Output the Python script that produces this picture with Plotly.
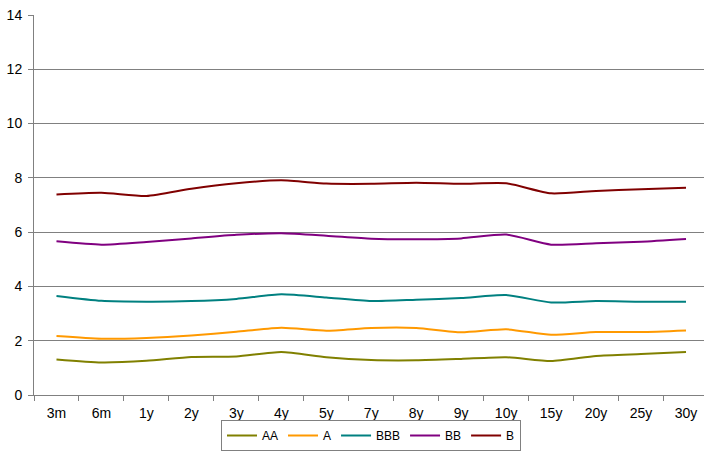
import plotly.graph_objects as go

categories = ["3m", "6m", "1y", "2y", "3y", "4y", "5y", "7y", "8y", "9y", "10y", "15y", "20y", "25y", "30y"]
AA = [1.31, 1.20, 1.26, 1.40, 1.42, 1.58, 1.39, 1.29, 1.28, 1.33, 1.39, 1.25, 1.44, 1.51, 1.58]
A = [2.17, 2.07, 2.10, 2.19, 2.33, 2.48, 2.37, 2.47, 2.47, 2.31, 2.42, 2.22, 2.32, 2.32, 2.38]
BBB = [3.65, 3.47, 3.44, 3.46, 3.54, 3.71, 3.59, 3.46, 3.51, 3.57, 3.68, 3.41, 3.46, 3.44, 3.44]
BB = [5.66, 5.54, 5.64, 5.77, 5.90, 5.96, 5.87, 5.76, 5.74, 5.77, 5.91, 5.54, 5.59, 5.65, 5.75]
B = [7.39, 7.45, 7.33, 7.60, 7.80, 7.91, 7.79, 7.78, 7.82, 7.78, 7.80, 7.43, 7.52, 7.58, 7.64]

series = [("AA", AA, "#808000"), ("A", A, "#FF9900"), ("BBB", BBB, "#008080"),
          ("BB", BB, "#800080"), ("B", B, "#800000")]

fig = go.Figure()
for name, vals, color in series:
    fig.add_trace(go.Scatter(x=list(range(len(categories))), y=vals, name=name, mode="lines",
                             line=dict(color=color, width=2, shape="spline", smoothing=0.6)))

fig.update_layout(
    width=704, height=451,
    margin=dict(l=34, r=0, t=15, b=56, autoexpand=False),
    paper_bgcolor="white", plot_bgcolor="white",
    font=dict(family="Liberation Sans, Arial", size=13, color="black"),
    legend=dict(orientation="h", x=0.527, xanchor="center", xref="container",
                y=0.0, yanchor="bottom", yref="container",
                bordercolor="#808080", borderwidth=1, font=dict(size=12),
                itemwidth=30, tracegroupgap=0, entrywidth=0, bgcolor="rgba(0,0,0,0)"),
    showlegend=True,
)
fig.update_xaxes(
    range=[-0.5, 14.4], tickmode="array", tickvals=list(range(len(categories))),
    ticktext=categories, showgrid=False, zeroline=False,
    showline=True, linecolor="#808080", linewidth=1,
    ticks="", tickfont=dict(size=14), ticklabelstandoff=5,
)
# category separator ticks
fig.update_xaxes(minor=dict(tickmode="array", tickvals=[i + 0.5 for i in range(-1, len(categories))],
                            ticks="outside", ticklen=5, tickcolor="#808080", showgrid=False))
fig.update_yaxes(
    range=[0, 14], dtick=2, showgrid=True, gridcolor="#808080", gridwidth=1,
    zeroline=False, showline=True, linecolor="#808080", linewidth=1,
    ticks="outside", ticklen=5, tickcolor="#808080", tickfont=dict(size=14),
    ticklabelstandoff=3,
)

fig.write_html("out.html")
